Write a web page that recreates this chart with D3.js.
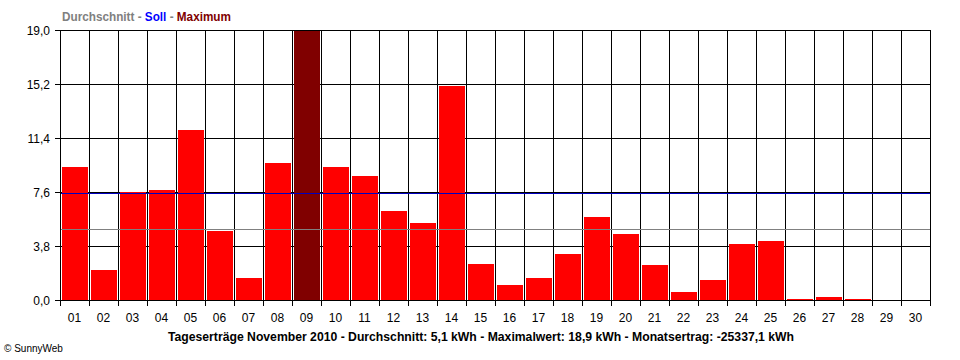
<!DOCTYPE html>
<html><head><meta charset="utf-8">
<script src="https://cdn.jsdelivr.net/npm/d3@7"></script>
<style>body{margin:0;background:#fff}svg{display:block}</style>
</head><body><svg id="c" width="960" height="360"></svg>
<script>
const days = ["01","02","03","04","05","06","07","08","09","10","11","12","13","14","15","16","17","18","19","20","21","22","23","24","25","26","27","28","29","30"];
const values = [9.38,2.13,7.62,7.76,11.98,4.88,1.57,9.66,18.9,9.38,8.75,6.28,5.44,15.08,2.55,1.08,1.57,3.26,5.86,4.67,2.48,0.58,1.43,3.96,4.17,0.09,0.23,0.09,0,0];
const yTicks = [0,3.8,7.6,11.4,15.2,19.0];
const avgValue = 5.03;
const sollValue = 7.55;
const maxDay = "09";
const title = "Tageserträge November 2010 - Durchschnitt: 5,1 kWh - Maximalwert: 18,9 kWh - Monatsertrag: -25337,1 kWh";
const legend = [{t:"Durchschnitt",c:"#808080"},{t:" - ",c:"#808080"},{t:"Soll",c:"#0000ff"},{t:" - ",c:"#808080"},{t:"Maximum",c:"#800000"}];

const svg = d3.select("#c");
const L=60, R=930, T=30, B=300;
const x = d3.scaleBand().domain(days).range([L,R]);
const y = d3.scaleLinear().domain([0,19]).range([B,T]);
const font = "'Liberation Sans', Arial, sans-serif";

// grid
const g = svg.append("g").attr("stroke","#000").attr("stroke-width",1).attr("shape-rendering","crispEdges");
yTicks.forEach(v=>{
  g.append("line").attr("x1",L-5).attr("x2",R+1).attr("y1",Math.round(y(v))+0.5).attr("y2",Math.round(y(v))+0.5);
});
days.forEach(d=>{
  g.append("line").attr("x1",x(d)+0.5).attr("x2",x(d)+0.5).attr("y1",T).attr("y2",B+6);
});
g.append("line").attr("x1",R+0.5).attr("x2",R+0.5).attr("y1",T).attr("y2",B+6);

// bars
svg.append("g").selectAll("rect").data(values).join("rect")
  .attr("x",(v,i)=>x(days[i])+2)
  .attr("width",x.bandwidth()-3)
  .attr("y",v=>Math.round(y(v)))
  .attr("height",v=>Math.max(0,B-Math.round(y(v))))
  .attr("fill",(v,i)=>days[i]===maxDay?"#800000":"#ff0000");

// baseline redraw
svg.append("line").attr("x1",L).attr("x2",R+1).attr("y1",B+0.5).attr("y2",B+0.5).attr("stroke","#000").attr("shape-rendering","crispEdges");

// avg & soll lines
svg.append("line").attr("x1",L+1).attr("x2",R).attr("y1",Math.round(y(avgValue))+0.5).attr("y2",Math.round(y(avgValue))+0.5).attr("stroke","#808080").attr("shape-rendering","crispEdges");
svg.append("line").attr("x1",L+1).attr("x2",R).attr("y1",Math.round(y(sollValue))+0.5).attr("y2",Math.round(y(sollValue))+0.5).attr("stroke","#0000c0").attr("shape-rendering","crispEdges");

// y labels
svg.append("g").selectAll("text").data(yTicks).join("text")
  .attr("x",50).attr("y",v=>y(v)+4.5).attr("text-anchor","end")
  .attr("font-family",font).attr("font-size",12).attr("fill","#000")
  .text(v=>d3.format(".1f")(v).replace(".",","));

// x labels
svg.append("g").selectAll("text").data(days).join("text")
  .attr("x",d=>x(d)+x.bandwidth()/2).attr("y",322).attr("text-anchor","middle")
  .attr("font-family",font).attr("font-size",12).attr("fill","#000")
  .text(d=>d);

// title
svg.append("text").attr("x",481).attr("y",341).attr("text-anchor","middle")
  .attr("font-family",font).attr("font-size",13).attr("font-weight","bold")
  .attr("textLength",626).attr("lengthAdjust","spacingAndGlyphs").text(title);

// legend
const lt = svg.append("text").attr("x",62).attr("y",21).attr("font-family",font).attr("font-size",12).attr("font-weight","bold")
  .attr("textLength",169).attr("lengthAdjust","spacingAndGlyphs");
legend.forEach(p=>lt.append("tspan").attr("fill",p.c).attr("xml:space","preserve").text(p.t));

// copyright
svg.append("text").attr("x",4).attr("y",352).attr("font-family",font).attr("font-size",10).attr("fill","#000").text("© SunnyWeb");
</script>
</body></html>
